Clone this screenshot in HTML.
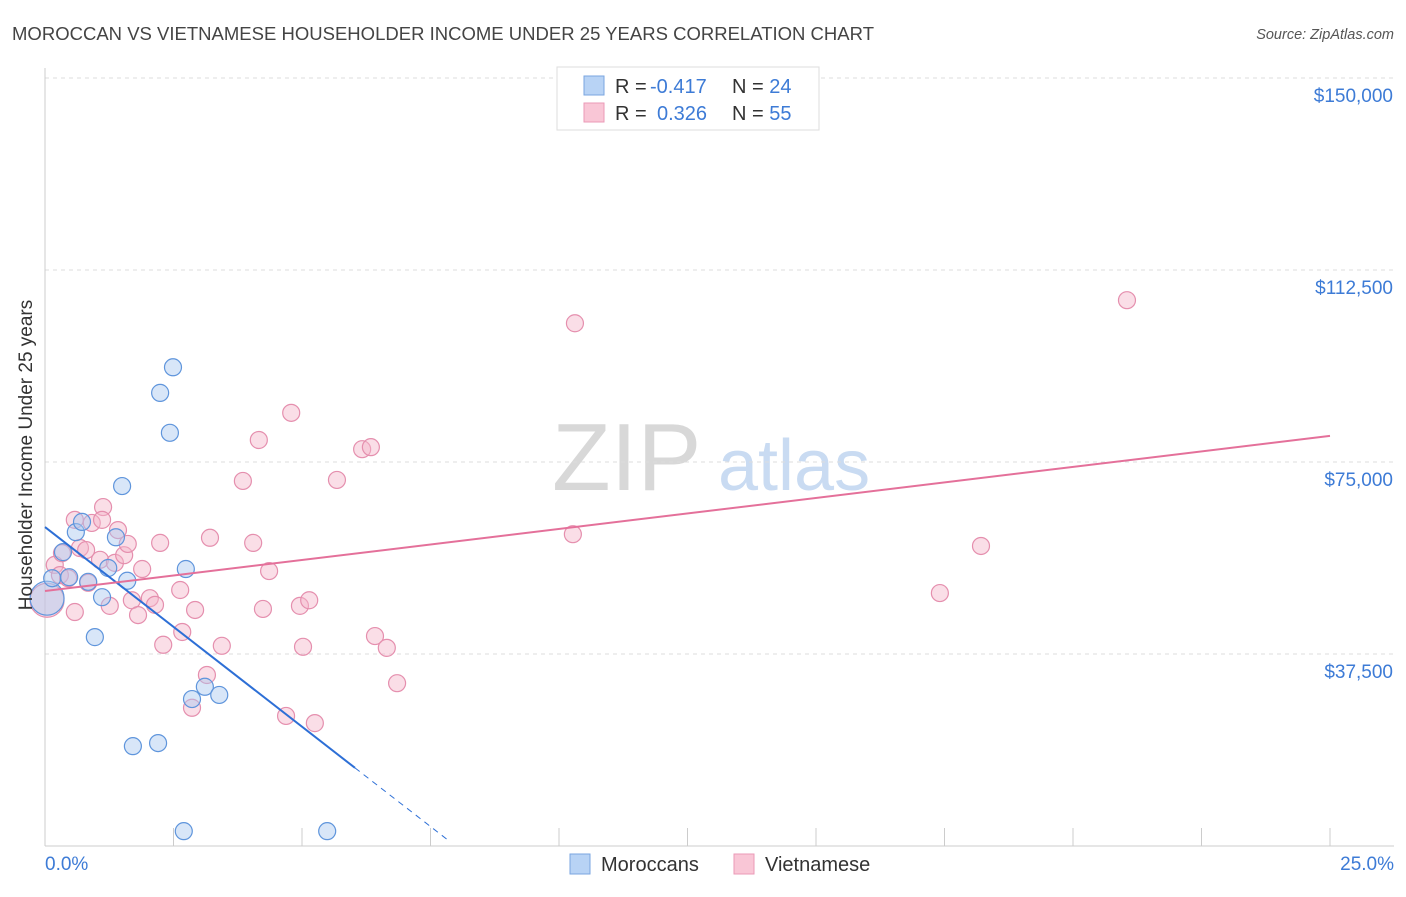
<!DOCTYPE html>
<html><head><meta charset="utf-8"><style>
body{margin:0;background:#fff;font-family:"Liberation Sans",sans-serif;}
svg text{font-family:"Liberation Sans",sans-serif;}
</style></head><body>
<svg id="c" width="1406" height="892">
<text x="12" y="40" font-size="18.5" fill="#444" textLength="862">MOROCCAN VS VIETNAMESE HOUSEHOLDER INCOME UNDER 25 YEARS CORRELATION CHART</text>
<text x="1394" y="39" font-size="14.5" fill="#555" text-anchor="end" font-style="italic">Source: ZipAtlas.com</text>
<g>
<text x="552" y="490" font-size="96" fill="#d8d8d8" font-family="Liberation Serif">ZIP</text>
<text x="718" y="490" font-size="72" fill="#c9dbf2">atlas</text>
</g>
<g id="grid"></g><g id="axes"></g><g id="pts"></g><g id="lines"></g>
<text x="32" y="455" font-size="19" fill="#333" text-anchor="middle" transform="rotate(-90 32 455)">Householder Income Under 25 years</text>
<text x="45" y="870" font-size="19" fill="#3d7bd6">0.0%</text>
<text x="1394" y="870" font-size="19" fill="#3d7bd6" text-anchor="end">25.0%</text>
<g>
<rect x="557" y="67" width="262" height="63" fill="#fff" stroke="#ddd"/>
<rect x="584" y="76" width="20" height="19" fill="#b8d3f5" stroke="#7aa6e0"/>
<rect x="584" y="103" width="20" height="19" fill="#f9c6d6" stroke="#eb9ab7"/>
<text x="615" y="93" font-size="20" fill="#333">R = <tspan fill="#3d7bd6" x="650">-0.417</tspan><tspan x="732">N = </tspan><tspan fill="#3d7bd6">24</tspan></text>
<text x="615" y="120" font-size="20" fill="#333">R = <tspan fill="#3d7bd6" x="657">0.326</tspan><tspan x="732">N = </tspan><tspan fill="#3d7bd6">55</tspan></text>
</g>
<g>
<rect x="570" y="854" width="20" height="20" fill="#b8d3f5" stroke="#7aa6e0"/>
<text x="601" y="871" font-size="20" fill="#333">Moroccans</text>
<rect x="734" y="854" width="20" height="20" fill="#f9c6d6" stroke="#eb9ab7"/>
<text x="765" y="871" font-size="20" fill="#333">Vietnamese</text>
</g>
</svg>
<script>
const yTicks=[37500,75000,112500,150000];
const yTickLabels=["$37,500","$75,000","$112,500","$150,000"];
const xTicks=[0,2.5,5,7.5,10,12.5,15,17.5,20,22.5,25];
const morX=[0.04,0.14,0.35,0.47,0.60,0.72,0.84,0.97,1.11,1.23,1.38,1.50,1.60,1.71,2.20,2.24,2.43,2.49,2.70,2.74,2.86,3.11,3.39,5.49];
const morY=[48400,52300,57400,52500,61300,63300,51600,40800,48600,54300,60300,70300,51800,19500,20100,88500,80700,93500,2900,54100,28700,31100,29500,2900];
const vieX=[0.04,0.19,0.29,0.33,0.45,0.58,0.68,0.84,0.91,1.07,1.13,1.11,1.26,1.36,1.42,1.54,1.61,1.69,1.81,1.89,2.04,2.14,2.24,2.30,2.63,2.67,2.92,2.86,3.15,3.21,3.44,3.85,4.05,4.16,4.24,4.36,4.69,4.79,4.96,5.02,5.14,5.25,5.68,6.17,6.34,6.42,6.65,6.85,10.31,10.27,17.41,18.21,21.05,0.80,0.58];
const vieY=[48000,54900,52900,57200,52300,45700,58200,51400,63100,55900,66200,63700,46900,55300,61700,56800,59000,48000,45100,54100,48400,47100,59200,39300,50000,41800,46100,27000,33400,60200,39100,71300,59200,79300,46300,53700,25400,84600,46900,38900,48000,24000,71500,77500,77900,41000,38700,31800,102100,60900,49400,58600,106600,57800,63700];
const morTrend=[62300,-7800];
const vieTrend=[49800,1212];
const X=v=>45+v/25*1285, Y=v=>846-v/37500*192;
const NS="http://www.w3.org/2000/svg";
function mk(par,tag,at){const e=document.createElementNS(NS,tag);for(const k in at)e.setAttribute(k,at[k]);document.getElementById(par).appendChild(e);return e;}
yTicks.forEach((t,i)=>{
 const l=mk('grid','line',{x1:45,x2:1394,y1:Y(t),y2:Y(t),stroke:'#ddd','stroke-dasharray':'4,4'});
 
 
 const tx=mk('grid','text',{x:1393,y:Y(t)+24,'font-size':19,fill:'#3d7bd6','text-anchor':'end'});
 tx.textContent=yTickLabels[i];
 
 
});
const ax=mk('axes','line',{x1:45,x2:45,y1:68,y2:846,stroke:'#ccc'});


const bx=mk('axes','line',{x1:45,x2:1394,y1:846,y2:846,stroke:'#ccc'});


xTicks.forEach(t=>{
 const l=mk('axes','line',{x1:X(t),x2:X(t),y1:828,y2:846,stroke:'#ccc'});
 
 
});
function dots(xs,ys,fill,stroke,name){
 xs.forEach((x,i)=>{
  const big=(i===0);
  const c=mk('pts','circle',{cx:X(x),cy:Y(ys[i]),r:big?17:8.5,fill:fill,'fill-opacity':0.45,stroke:stroke,'stroke-width':1.2});
  
  
 });
}
dots(vieX,vieY,'#f5b5ca','#e58fae','vietnamese-point');
dots(morX,morY,'#a9c8f0','#5f95dc','moroccan-point');
const m1=mk('lines','line',{x1:X(0),y1:Y(morTrend[0]),x2:X(6.03),y2:Y(morTrend[0]+morTrend[1]*6.03),stroke:'#2d6fd6','stroke-width':2});


const m2=mk('lines','line',{x1:X(6.03),y1:Y(morTrend[0]+morTrend[1]*6.03),x2:X(7.84),y2:Y(morTrend[0]+morTrend[1]*7.84),stroke:'#2d6fd6','stroke-width':1,'stroke-dasharray':'6,5'});


const v1=mk('lines','line',{x1:X(0),y1:Y(vieTrend[0]),x2:X(25),y2:Y(vieTrend[0]+vieTrend[1]*25),stroke:'#e4709a','stroke-width':2});


</script>
</body></html>
